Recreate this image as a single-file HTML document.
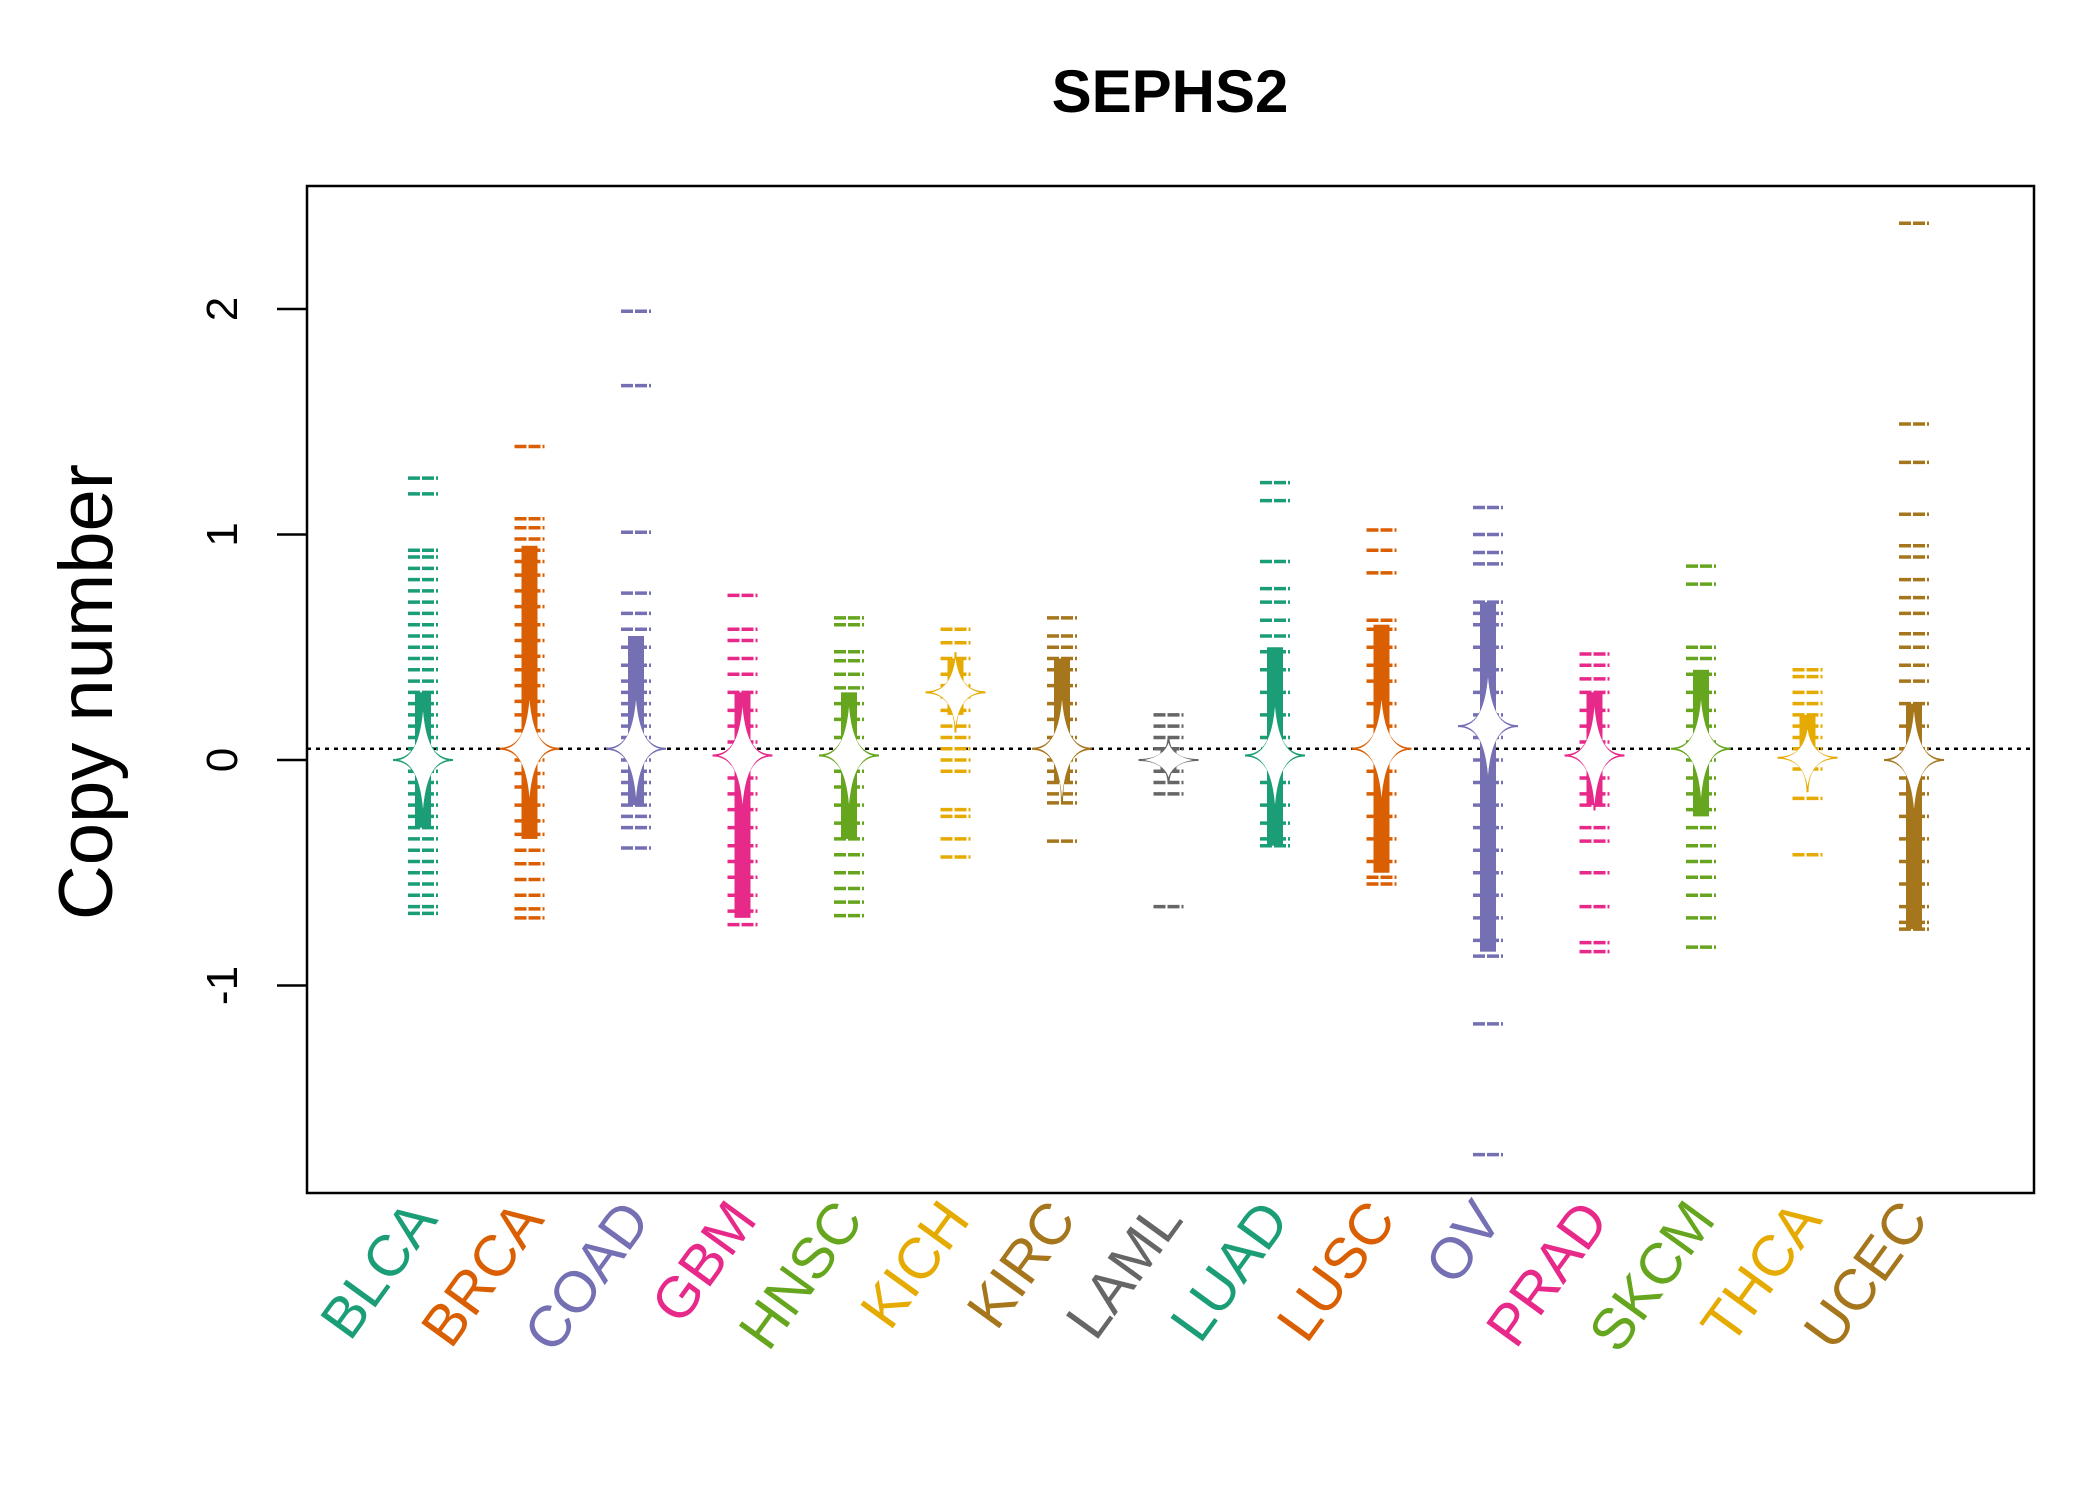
<!DOCTYPE html>
<html><head><meta charset="utf-8"><style>
html,body{margin:0;padding:0;background:#fff}
svg{display:block;font-family:"Liberation Sans",Arial,sans-serif}
</style></head><body>
<svg id="chart" width="2100" height="1500" viewBox="0 0 2100 1500">
<text x="1170" y="112" text-anchor="middle" font-size="60" font-weight="bold">SEPHS2</text>
<text transform="translate(112,692) rotate(-90)" text-anchor="middle" font-size="76">Copy number</text>
<g id="axes"></g>
<g id="marks"></g>
<rect x="307" y="186" width="1727" height="1007" fill="none" stroke="#000" stroke-width="2.5"/>
</svg>
<script>
const categories=["BLCA","BRCA","COAD","GBM","HNSC","KICH","KIRC","LAML","LUAD","LUSC","OV","PRAD","SKCM","THCA","UCEC"];
const colors=["#1B9E77","#D95F02","#7570B3","#E7298A","#66A61E","#E6AB02","#A6761D","#666666","#1B9E77","#D95F02","#7570B3","#E7298A","#66A61E","#E6AB02","#A6761D"];
const yTicks=[-1,0,1,2];
const refLine=0.05;
const medians=[0,0.05,0.05,0.02,0.02,0.3,0.05,0,0.02,0.05,0.15,0.02,0.05,0.01,0];
const coreLo=[-0.3,-0.35,-0.2,-0.7,-0.35,0.2,-0.1,-0.05,-0.38,-0.5,-0.85,-0.2,-0.25,0,-0.75];
const coreHi=[0.3,0.95,0.55,0.3,0.3,0.45,0.45,0.05,0.5,0.6,0.7,0.3,0.4,0.2,0.25];
const BLCA=[1.25,1.18,0.93,0.9,0.85,0.8,0.75,0.7,0.65,0.6,0.55,0.5,0.45,0.4,0.35,0.3,0.25,0.2,0.15,0.1,0.05,0,-0.05,-0.1,-0.15,-0.2,-0.25,-0.3,-0.35,-0.4,-0.45,-0.5,-0.55,-0.6,-0.65,-0.68];
const BRCA=[1.39,1.07,1.03,0.98,0.93,0.88,0.82,0.75,0.68,0.6,0.53,0.46,0.4,0.33,0.26,0.2,0.13,0.06,0,-0.06,-0.12,-0.2,-0.27,-0.33,-0.4,-0.46,-0.53,-0.6,-0.66,-0.7];
const COAD=[1.99,1.66,1.01,0.74,0.65,0.58,0.5,0.42,0.35,0.3,0.25,0.2,0.15,0.1,0.05,0,-0.05,-0.1,-0.15,-0.2,-0.25,-0.3,-0.39];
const GBM=[0.73,0.58,0.53,0.45,0.38,0.3,0.22,0.15,0.08,0,-0.08,-0.15,-0.22,-0.3,-0.38,-0.45,-0.52,-0.6,-0.67,-0.73];
const HNSC=[0.63,0.6,0.48,0.44,0.38,0.32,0.25,0.18,0.1,0.03,-0.05,-0.12,-0.2,-0.28,-0.35,-0.42,-0.5,-0.57,-0.63,-0.69];
const KICH=[0.58,0.52,0.45,0.38,0.33,0.28,0.22,0.15,0.1,0.05,0,-0.05,-0.22,-0.25,-0.35,-0.43];
const KIRC=[0.63,0.55,0.5,0.45,0.4,0.33,0.25,0.18,0.1,0.05,0,-0.05,-0.1,-0.15,-0.19,-0.36];
const LAML=[0.2,0.15,0.1,0.05,0,-0.05,-0.1,-0.15,-0.65];
const LUAD=[1.23,1.15,0.88,0.76,0.7,0.62,0.55,0.48,0.4,0.3,0.2,0.1,0,-0.1,-0.2,-0.28,-0.35,-0.38];
const LUSC=[1.02,0.93,0.83,0.62,0.58,0.5,0.42,0.35,0.25,0.15,0.05,-0.05,-0.15,-0.25,-0.35,-0.45,-0.52,-0.55];
const OV=[1.12,1.0,0.92,0.87,0.7,0.65,0.6,0.5,0.4,0.3,0.2,0.1,0,-0.1,-0.2,-0.3,-0.4,-0.5,-0.6,-0.7,-0.8,-0.87,-1.17,-1.75];
const PRAD=[0.47,0.42,0.36,0.3,0.22,0.15,0.08,0,-0.08,-0.15,-0.2,-0.3,-0.36,-0.5,-0.65,-0.81,-0.85];
const SKCM=[0.86,0.78,0.5,0.45,0.38,0.3,0.22,0.15,0.08,0,-0.08,-0.15,-0.22,-0.3,-0.38,-0.45,-0.52,-0.6,-0.7,-0.83];
const THCA=[0.4,0.37,0.3,0.25,0.2,0.15,0.1,0.05,0,-0.04,-0.17,-0.42];
const UCEC=[2.38,1.49,1.32,1.09,0.95,0.9,0.8,0.72,0.65,0.56,0.5,0.42,0.35,0.25,0.15,0.05,0,-0.08,-0.15,-0.25,-0.35,-0.45,-0.55,-0.65,-0.72,-0.75];
const seriesValues=[BLCA,BRCA,COAD,GBM,HNSC,KICH,KIRC,LAML,LUAD,LUSC,OV,PRAD,SKCM,THCA,UCEC];

const NS="http://www.w3.org/2000/svg";
const X0=307,X1=2034;
function xPos(i){return 423+i*106.5;}
function yPos(v){return 760-v*225.5;}
function mk(tag,attrs,parent){const e=document.createElementNS(NS,tag);for(const k in attrs)e.setAttribute(k,attrs[k]);parent.appendChild(e);return e;}
const axes=document.getElementById('axes'),marks=document.getElementById('marks');
yTicks.forEach(t=>{
  const y=yPos(t);
  const l=mk('line',{x1:X0-30,x2:X0,y1:y,y2:y,stroke:'#000','stroke-width':2.5},axes);
  
  
  const tx=mk('text',{transform:`translate(${X0-70},${y}) rotate(-90)`,'text-anchor':'middle','font-size':44},axes);
  tx.textContent=String(t);
  
  
});
const yl=mk('line',{x1:X0,x2:X1,y1:yPos(refLine),y2:yPos(refLine),stroke:'#000','stroke-width':2.5,'stroke-dasharray':'4,5'},axes);


categories.forEach((c,i)=>{
  const x=xPos(i),col=colors[i],vals=seriesValues[i];
  const g=mk('g',{},marks);
  
  
  mk('rect',{x:x-8,y:yPos(coreHi[i]),width:16,height:yPos(coreLo[i])-yPos(coreHi[i]),fill:col},g);
  vals.forEach(v=>{
    const t=mk('line',{x1:x-15,x2:x+15,y1:yPos(v),y2:yPos(v),stroke:col,'stroke-width':3.5,'stroke-dasharray':'12,2'},g);
    
    
  });
  const m=yPos(medians[i]);
  const hw=24,hh=Math.min(55,(yPos(coreLo[i])-yPos(coreHi[i]))/2+12);
  mk('path',{d:`M${x-hw-6},${m} Q${x},${m} ${x},${m-hh} Q${x},${m} ${x+hw+6},${m} Q${x},${m} ${x},${m+hh} Q${x},${m} ${x-hw-6},${m} Z`,fill:'#fff',stroke:col,'stroke-width':2},g);
  mk('path',{d:`M${x-hw},${m} Q${x-4},${m-4} ${x},${m-hh+6} Q${x+4},${m-4} ${x+hw},${m} Q${x+4},${m+4} ${x},${m+hh-6} Q${x-4},${m+4} ${x-hw},${m} Z`,fill:'#fff'},g);
  const lb=mk('text',{transform:`translate(${x+16},${1220}) rotate(-54)`,'text-anchor':'end','font-size':58,fill:col},marks);
  lb.textContent=c;
  
  
});
</script>
</body></html>
